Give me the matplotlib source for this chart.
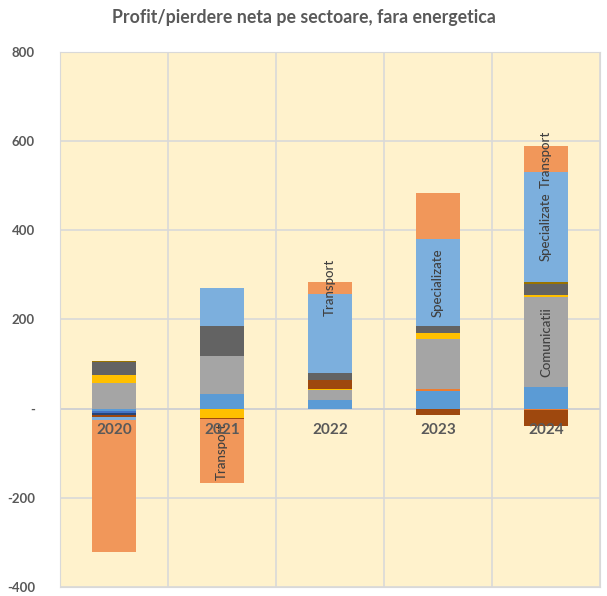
import numpy as np
import matplotlib.pyplot as plt
from matplotlib import transforms

years = ["2020", "2021", "2022", "2023", "2024"]

# sector values, same order as the stacking in the chart
agricultura = [-5, 34, 20, 39, 49]
industrie = [0, 0, 0, 6, -4]
comunicatii = [57, 85, 22, 112, 202]
comert = [19, -22, 2, 12, 4]
constructii = [-4, 0, 0, 0, 0]
financiar = [-5, 0, 0, 0, 0]
imobiliare = [-5, -2, 20, -15, -35]
sanatate = [29, 67, 16, 16, 25]
altele = [3, 0, 0, 0, 4]
specializate = [-7, 85, 178, 196, 247]
transport = [-295, -142, 26, 102, 58]

series = [
    ("Agricultura", agricultura, "#5B9BD5"),
    ("Industrie", industrie, "#ED7D31"),
    ("Comunicatii", comunicatii, "#A5A5A5"),
    ("Comert", comert, "#FFC000"),
    ("Constructii", constructii, "#4472C4"),
    ("Financiar", financiar, "#264478"),
    ("Imobiliare", imobiliare, "#9E480E"),
    ("Sanatate", sanatate, "#636363"),
    ("Altele", altele, "#997300"),
    ("Specializate", specializate, "#7CAFDD"),
    ("Transport", transport, "#F1975A"),
]

# which segments carry a data label (series name, year index)
labels_shown = [("Transport", 1), ("Transport", 2), ("Transport", 4),
                ("Specializate", 3), ("Specializate", 4), ("Comunicatii", 4)]

plt.rcParams['font.family'] = ['Lato', 'DejaVu Sans']
txt = "#595959"

fig = plt.figure(figsize=(6.07, 5.96), dpi=100)
ax = fig.add_axes([60/607, 9/596, 540/607, 535/596])
ax.set_facecolor("#FFF2CC")

x = np.arange(len(years))
pos_bottom = np.zeros(len(years))
neg_bottom = np.zeros(len(years))
centers = {}
for name, vals, col in series:
    v = np.array(vals, dtype=float)
    bottom = np.where(v >= 0, pos_bottom, neg_bottom)
    ax.bar(x, v, 0.4, bottom=bottom, color=col, zorder=3, linewidth=0)
    centers[name] = bottom + v / 2
    pos_bottom += np.where(v >= 0, v, 0)
    neg_bottom += np.where(v < 0, v, 0)

for name, i in labels_shown:
    ax.text(i, centers[name][i], name, rotation=90, ha='center', va='center',
            fontsize=9.5, fontweight='medium', color="#404040", zorder=5)

ax.set_xlim(-0.5, 4.5)
ax.set_ylim(-400, 800)
ax.set_yticks(range(-400, 801, 200))
ax.set_yticklabels(["-400", "-200", "-", "200", "400", "600", "800"])
ax.set_xticks(np.arange(-0.5, 4.6, 1))
ax.set_xticklabels([])
ax.tick_params(axis='both', length=0)
ax.tick_params(axis='y', pad=18, labelsize=9.5, labelcolor=txt)
for lab in ax.get_yticklabels():
    lab.set_fontweight('bold')
ax.grid(True, color="#D9D9D9", linewidth=1.2, zorder=0)
ax.axhline(0, color="#D0D0D0", linewidth=1.2, zorder=2)
for s in ax.spines.values():
    s.set_color("#D9D9D9")

off = transforms.offset_copy(ax.transData, fig=fig, x=0, y=-21, units='dots')
for i, yr in enumerate(years):
    ax.text(i, 0, yr, transform=off, ha='center', va='center', fontsize=11,
            fontweight='bold', color=txt, zorder=6)

fig.text(0.5, 1 - 18/596, "Profit/pierdere neta pe sectoare, fara energetica",
         ha='center', va='center', fontsize=12.8, fontweight='bold', color=txt)

fig.savefig("out.png", dpi=100)
